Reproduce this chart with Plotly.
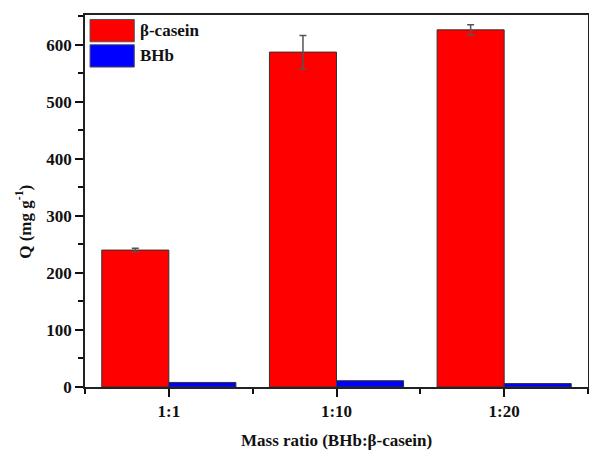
import plotly.graph_objects as go

categories = ["1:1", "1:10", "1:20"]
casein = [240, 587, 626]
casein_err = [3, 29, 9]
bhb = [8, 11, 6]
series_names = ["β-casein", "BHb"]
colors = ["#ff0000", "#0000ff"]

xpos = list(range(len(categories)))
font = dict(family="Liberation Serif", size=17, color="#111")

fig = go.Figure()
fig.add_bar(x=xpos, y=casein, name=series_names[0], marker=dict(color=colors[0], line=dict(color="#333", width=1)),
            error_y=dict(type="data", array=casein_err, color="#555", thickness=1.5, width=3.5))
fig.add_bar(x=xpos, y=bhb, name=series_names[1], marker=dict(color=colors[1], line=dict(color="#333", width=1)))

# custom legend with large swatches
sw = [(0.010, 0.988, 0.098, 0.928), (0.010, 0.92, 0.098, 0.86)]
for (x0, y1, x1, y0), c, n in zip(sw, colors, series_names):
    fig.add_shape(type="rect", xref="paper", yref="paper", x0=x0, x1=x1, y0=y0, y1=y1,
                  fillcolor=c, line=dict(color="#555", width=1))
    fig.add_annotation(xref="paper", yref="paper", x=x1 + 0.008, y=(y0 + y1) / 2, text="<b>%s</b>" % n,
                       showarrow=False, xanchor="left", yanchor="middle", font=font)

# axis titles
fig.add_annotation(xref="paper", yref="paper", x=0.5, y=-0.143, yanchor="middle", xanchor="center",
                   text="<b>Mass ratio (BHb:β-casein)</b>", showarrow=False, font=font)
fig.add_annotation(xref="paper", yref="paper", x=-0.122, y=0.443, yanchor="middle", xanchor="center",
                   text="<b>Q (mg g<sup>-1</sup>)</b>", textangle=-90, showarrow=False, font=font)

fig.update_layout(
    width=589, height=451, showlegend=False,
    margin=dict(l=85, r=1, t=15, b=64),
    plot_bgcolor="white", paper_bgcolor="white",
    barmode="group", bargap=0.2, bargroupgap=0,
    font=font,
)
fig.update_xaxes(range=[-0.5, 2.5], tickvals=xpos, ticktext=["<b>%s</b>" % c for c in categories],
                 ticks="outside", ticklen=8, tickwidth=1.5, tickcolor="#111", automargin=False,
                 minor=dict(tickmode="linear", tick0=0.5, dtick=1, ticks="outside", ticklen=5, tickwidth=1.5, tickcolor="#111"),
                 showline=True, linecolor="#222", linewidth=1.5, mirror=True, showgrid=False, zeroline=False)
fig.update_yaxes(range=[0, 652], tickmode="linear", tick0=0, dtick=100, tickprefix="<b>", ticksuffix="</b>",
                 ticks="outside", ticklen=8, tickwidth=1.5, tickcolor="#111", automargin=False,
                 minor=dict(dtick=50, ticks="outside", ticklen=5, tickwidth=1.5, tickcolor="#111"),
                 showline=True, linecolor="#222", linewidth=1.5, mirror=True, showgrid=False, zeroline=False)

fig.write_html("out.html", config={"displayModeBar": False},
               post_script="document.body.style.margin='0';document.body.style.overflow='hidden';")
